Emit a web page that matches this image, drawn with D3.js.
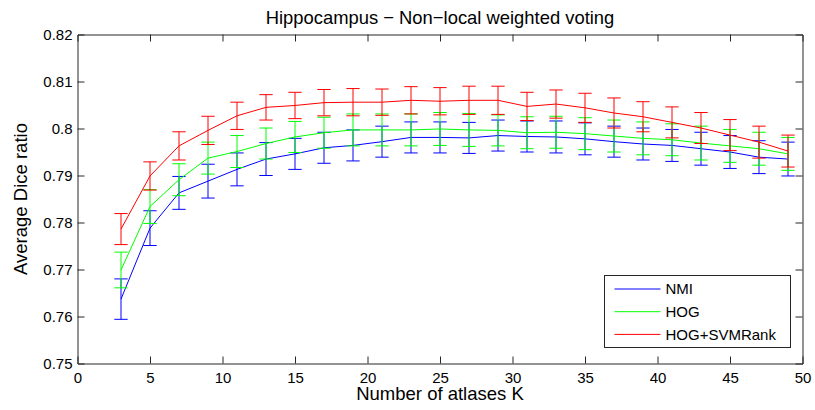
<!DOCTYPE html>
<html>
<head>
<meta charset="utf-8">
<script src="https://cdnjs.cloudflare.com/ajax/libs/d3/7.8.5/d3.min.js"></script>
<style>
    body { margin: 0; background: #fff; }
    svg text { font-family: "Liberation Sans", Arial, sans-serif; fill: #000; }
</style>
</head>
<body>
<div id="chart"></div>
<script>
// Number of atlases K
var atlasCounts = [3, 5, 7, 9, 11, 13, 15, 17, 19, 21, 23, 25, 27, 29, 31, 33, 35, 37, 39, 41, 43, 45, 47, 49];

// Mean Dice ratio per method
var nmiMeans = [0.7637, 0.7788, 0.7863, 0.7888, 0.7913, 0.7935, 0.7946, 0.7959, 0.7964, 0.7972, 0.7981, 0.7981,
                0.7980, 0.7985, 0.7983, 0.7982, 0.7978, 0.7972, 0.7967, 0.7964, 0.7957, 0.7950, 0.7939, 0.7935];
var hogMeans = [0.7699, 0.7834, 0.7891, 0.7937, 0.7951, 0.7968, 0.7982, 0.7991, 0.7997, 0.7997, 0.7997, 0.7999,
                0.7997, 0.7996, 0.7991, 0.7992, 0.7989, 0.7984, 0.7979, 0.7976, 0.7969, 0.7963, 0.7957, 0.7946];
var rankMeans = [0.7786, 0.7899, 0.7963, 0.7996, 0.8027, 0.8045, 0.8049, 0.8055, 0.8056, 0.8056, 0.8060, 0.8058,
                 0.8060, 0.8060, 0.8047, 0.8052, 0.8044, 0.8033, 0.8025, 0.8013, 0.8001, 0.7986, 0.7971, 0.7952];

// Half length of the error bars
var nmiErrors = [0.0043, 0.0037, 0.0035, 0.0036, 0.0035, 0.0035, 0.0033, 0.0033, 0.0033, 0.0033, 0.0033, 0.0033,
                 0.0033, 0.0033, 0.0033, 0.0034, 0.0034, 0.0033, 0.0034, 0.0034, 0.0035, 0.0035, 0.0035, 0.0036];
var hogErrors = [0.0038, 0.0036, 0.0034, 0.0034, 0.0034, 0.0033, 0.0033, 0.0033, 0.0034, 0.0034, 0.0034, 0.0035,
                 0.0035, 0.0033, 0.0034, 0.0034, 0.0034, 0.0034, 0.0035, 0.0034, 0.0036, 0.0035, 0.0035, 0.0035];
var rankErrors = [0.0033, 0.0030, 0.0030, 0.0030, 0.0029, 0.0027, 0.0028, 0.0028, 0.0029, 0.0028, 0.0029, 0.0029,
                  0.0030, 0.0030, 0.0030, 0.0030, 0.0031, 0.0032, 0.0032, 0.0033, 0.0033, 0.0033, 0.0034, 0.0034];

var seriesNames = ['NMI', 'HOG', 'HOG+SVMRank'];
var xTicks = [0, 5, 10, 15, 20, 25, 30, 35, 40, 45, 50];
var yTicks = [0.75, 0.76, 0.77, 0.78, 0.79, 0.80, 0.81, 0.82];

var width = 815,
    height = 410,
    // plot box inside the svg
    margin = {top: 34.5, right: 12.5, bottom: 46.5, left: 77.5},
    tickLength = 7,
    capHalf = 0.46,
    colors = ['#0000ff', '#00ff00', '#ff0000'];

var series = [
    {name: seriesNames[0], means: nmiMeans, errors: nmiErrors, color: colors[0]},
    {name: seriesNames[1], means: hogMeans, errors: hogErrors, color: colors[1]},
    {name: seriesNames[2], means: rankMeans, errors: rankErrors, color: colors[2]}
];

var x = d3.scaleLinear().domain([0, 50]).range([margin.left, width - margin.right]);
var y = d3.scaleLinear().domain([0.75, 0.82]).range([height - margin.bottom, margin.top]);

var svg = d3.select('#chart').append('svg')
    .attr('width', width)
    .attr('height', height);

// Error bars and lines, one group per method
series.forEach(function(s) {
    var pts = atlasCounts.map(function(k, i) {
        return {k: k, m: s.means[i], e: s.errors[i]};
    });
    var g = svg.append('g')
        .attr('stroke', s.color)
        .attr('stroke-width', 1)
        .attr('fill', 'none');

    g.selectAll('line.bar').data(pts).enter()
        .append('line')
        .attr('x1', function(d) { return x(d.k); })
        .attr('x2', function(d) { return x(d.k); })
        .attr('y1', function(d) { return y(d.m - d.e); })
        .attr('y2', function(d) { return y(d.m + d.e); });

    g.selectAll('line.top').data(pts).enter()
        .append('line')
        .attr('x1', function(d) { return x(d.k - capHalf); })
        .attr('x2', function(d) { return x(d.k + capHalf); })
        .attr('y1', function(d) { return y(d.m + d.e); })
        .attr('y2', function(d) { return y(d.m + d.e); });

    g.selectAll('line.bottom').data(pts).enter()
        .append('line')
        .attr('x1', function(d) { return x(d.k - capHalf); })
        .attr('x2', function(d) { return x(d.k + capHalf); })
        .attr('y1', function(d) { return y(d.m - d.e); })
        .attr('y2', function(d) { return y(d.m - d.e); });

    g.append('path')
        .datum(pts)
        .attr('d', d3.line()
            .x(function(d) { return x(d.k); })
            .y(function(d) { return y(d.m); }));
});

// Axes: ticks point inwards, mirrored on top and right
var axisColor = '#262626';
var bottomAxis = svg.append('g')
    .attr('transform', 'translate(0,' + y.range()[0] + ')')
    .call(d3.axisBottom(x).tickValues(xTicks).tickSize(-tickLength).tickPadding(9).tickFormat(d3.format('d')));
var topAxis = svg.append('g')
    .attr('transform', 'translate(0,' + y.range()[1] + ')')
    .call(d3.axisTop(x).tickValues(xTicks).tickSize(-tickLength).tickFormat(''));
var leftAxis = svg.append('g')
    .attr('transform', 'translate(' + x.range()[0] + ',0)')
    .call(d3.axisLeft(y).tickValues(yTicks).tickSize(-tickLength).tickPadding(5).tickFormat(function(d) {
        return d3.format('.2f')(d).replace(/0$/, '');
    }));
var rightAxis = svg.append('g')
    .attr('transform', 'translate(' + x.range()[1] + ',0)')
    .call(d3.axisRight(y).tickValues(yTicks).tickSize(-tickLength).tickFormat(''));

[bottomAxis, topAxis, leftAxis, rightAxis].forEach(function(a) {
    a.selectAll('.domain').attr('stroke', axisColor);
    a.selectAll('.tick line').attr('stroke', axisColor);
    a.selectAll('.tick text').attr('font-size', 15).attr('fill', '#000');
});
// drop the end ticks that sit on the box corners
[bottomAxis, topAxis].forEach(function(a) {
    a.selectAll('.tick line').filter(function(d) { return d === 0 || d === 50; }).remove();
});
[leftAxis, rightAxis].forEach(function(a) {
    a.selectAll('.tick line').filter(function(d) { return d === 0.75 || d === 0.82; }).remove();
});

// Titles
svg.append('text')
    .attr('x', (x.range()[0] + x.range()[1]) / 2)
    .attr('y', 24)
    .attr('text-anchor', 'middle')
    .attr('font-size', 18.4)
    .text('Hippocampus \u2212 Non\u2212local weighted voting');

svg.append('text')
    .attr('x', (x.range()[0] + x.range()[1]) / 2)
    .attr('y', 400)
    .attr('text-anchor', 'middle')
    .attr('font-size', 18.5)
    .text('Number of atlases K');

svg.append('text')
    .attr('transform', 'translate(27,' + (y.range()[0] + y.range()[1]) / 2 + ') rotate(-90)')
    .attr('text-anchor', 'middle')
    .attr('font-size', 18.5)
    .text('Average Dice ratio');

// Legend
var legend = svg.append('g').attr('transform', 'translate(604.5,275.5)');
legend.append('rect')
    .attr('width', 186)
    .attr('height', 72)
    .attr('fill', '#fff')
    .attr('stroke', axisColor);

var rows = legend.selectAll('g.row').data(series).enter()
    .append('g')
    .attr('transform', function(d, i) { return 'translate(0,' + (13.5 + i * 22.7) + ')'; });
rows.append('line')
    .attr('x1', 10)
    .attr('x2', 56)
    .attr('stroke', function(d) { return d.color; })
    .attr('stroke-width', 1);
rows.append('text')
    .attr('x', 61)
    .attr('dy', '0.36em')
    .attr('font-size', 15)
    .text(function(d) { return d.name; });
</script>
</body>
</html>
